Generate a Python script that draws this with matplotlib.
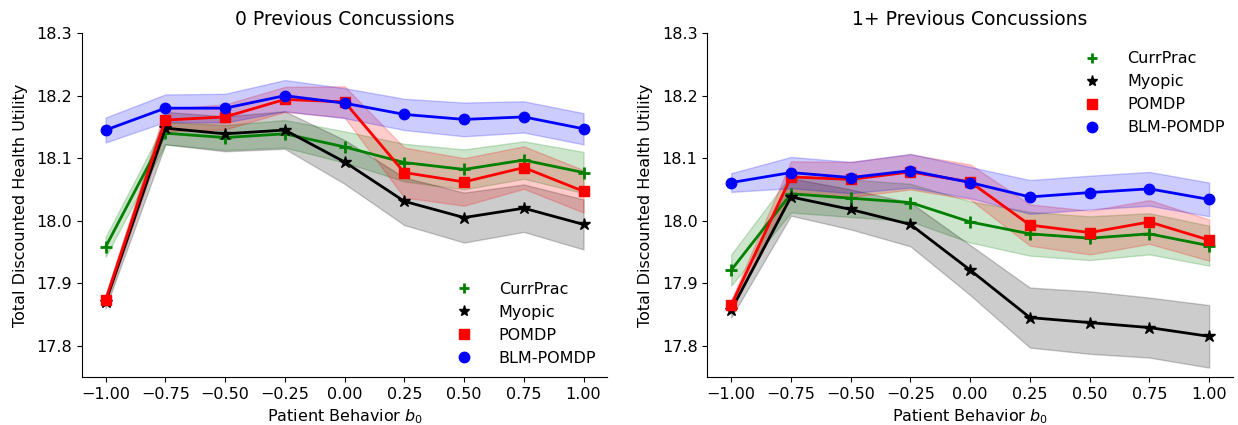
import numpy as np
import matplotlib.pyplot as plt
from matplotlib.lines import Line2D

b0 = [-1.00, -0.75, -0.50, -0.25, 0.00, 0.25, 0.50, 0.75, 1.00]
titles = ["0 Previous Concussions", "1+ Previous Concussions"]
policies = ["CurrPrac", "Myopic", "POMDP", "BLM-POMDP"]

# panel 0: 0 previous concussions
curr_0 = [17.958, 18.140, 18.133, 18.139, 18.118, 18.093, 18.082, 18.097, 18.077]
curr_0_err = [0.016, 0.018, 0.020, 0.022, 0.025, 0.030, 0.032, 0.030, 0.033]
myop_0 = [17.870, 18.148, 18.139, 18.145, 18.094, 18.031, 18.005, 18.020, 17.994]
myop_0_err = [0.010, 0.026, 0.028, 0.030, 0.035, 0.038, 0.040, 0.038, 0.040]
pomdp_0 = [17.873, 18.161, 18.166, 18.194, 18.190, 18.077, 18.062, 18.085, 18.047]
pomdp_0_err = [0.008, 0.018, 0.020, 0.020, 0.025, 0.040, 0.038, 0.034, 0.034]
blm_0 = [18.145, 18.180, 18.180, 18.200, 18.188, 18.170, 18.162, 18.166, 18.147]
blm_0_err = [0.020, 0.022, 0.023, 0.025, 0.024, 0.025, 0.027, 0.025, 0.025]

# panel 1: 1+ previous concussions
curr_1 = [17.921, 18.043, 18.036, 18.029, 17.998, 17.979, 17.972, 17.979, 17.960]
curr_1_err = [0.025, 0.030, 0.030, 0.030, 0.033, 0.035, 0.035, 0.033, 0.032]
myop_1 = [17.857, 18.038, 18.018, 17.994, 17.921, 17.845, 17.837, 17.829, 17.815]
myop_1_err = [0.012, 0.030, 0.032, 0.035, 0.040, 0.048, 0.050, 0.048, 0.050]
pomdp_1 = [17.865, 18.070, 18.066, 18.078, 18.062, 17.993, 17.981, 17.998, 17.969]
pomdp_1_err = [0.008, 0.025, 0.028, 0.028, 0.028, 0.033, 0.035, 0.035, 0.033]
blm_1 = [18.061, 18.077, 18.069, 18.080, 18.061, 18.038, 18.045, 18.051, 18.034]
blm_1_err = [0.015, 0.025, 0.025, 0.027, 0.025, 0.027, 0.027, 0.027, 0.027]

panels = [
    [(curr_0, curr_0_err), (myop_0, myop_0_err), (pomdp_0, pomdp_0_err), (blm_0, blm_0_err)],
    [(curr_1, curr_1_err), (myop_1, myop_1_err), (pomdp_1, pomdp_1_err), (blm_1, blm_1_err)],
]

colors = ["g", "k", "r", "b"]
markers = ["+", "*", "s", "o"]
msizes = [8, 9, 7.5, 7.5]
leg_sizes = [7, 8, 7, 7.5]

fig, axes = plt.subplots(1, 2, figsize=(12.38, 4.25), dpi=100)
fig.subplots_adjust(left=0.066, right=0.996, bottom=0.113, top=0.922, wspace=0.19)

x = np.array(b0)
for ax, title, series in zip(axes, titles, panels):
    for (vals, err), c, m, ms in zip(series, colors, markers, msizes):
        vals = np.array(vals)
        err = np.array(err)
        ax.fill_between(x, vals - err, vals + err, color=c, alpha=0.2)
        ax.plot(x, vals, color=c, marker=m, markersize=ms, lw=2, mew=2 if m == "+" else 1)
    ax.set_title(title, fontsize=13.5)
    ax.set_xlabel("Patient Behavior $b_0$", fontsize=11.5)
    ax.set_xticks(b0)
    ax.set_xlim(-1.1, 1.1)
    ax.set_ylim(17.75, 18.3)
    ax.set_yticks([17.8, 17.9, 18.0, 18.1, 18.2, 18.3])
    ax.tick_params(labelsize=11.5)
    ax.spines["top"].set_visible(False)
    ax.spines["right"].set_visible(False)
    ax.set_ylabel("Total Discounted Health Utility", fontsize=11.5, labelpad=6)

handles = [Line2D([], [], color=c, marker=m, linestyle="none", markersize=ms,
                  mew=2 if m == "+" else 1)
           for c, m, ms in zip(colors, markers, leg_sizes)]
axes[0].legend(handles, policies, loc="lower right", frameon=False, fontsize=11.5,
               handletextpad=1.2, borderaxespad=0.3)
axes[1].legend(handles, policies, loc="upper right", bbox_to_anchor=(1.0, 0.97),
               frameon=False, fontsize=11.5, handletextpad=1.2, borderaxespad=0.1)

plt.savefig("out.png", dpi=100)
